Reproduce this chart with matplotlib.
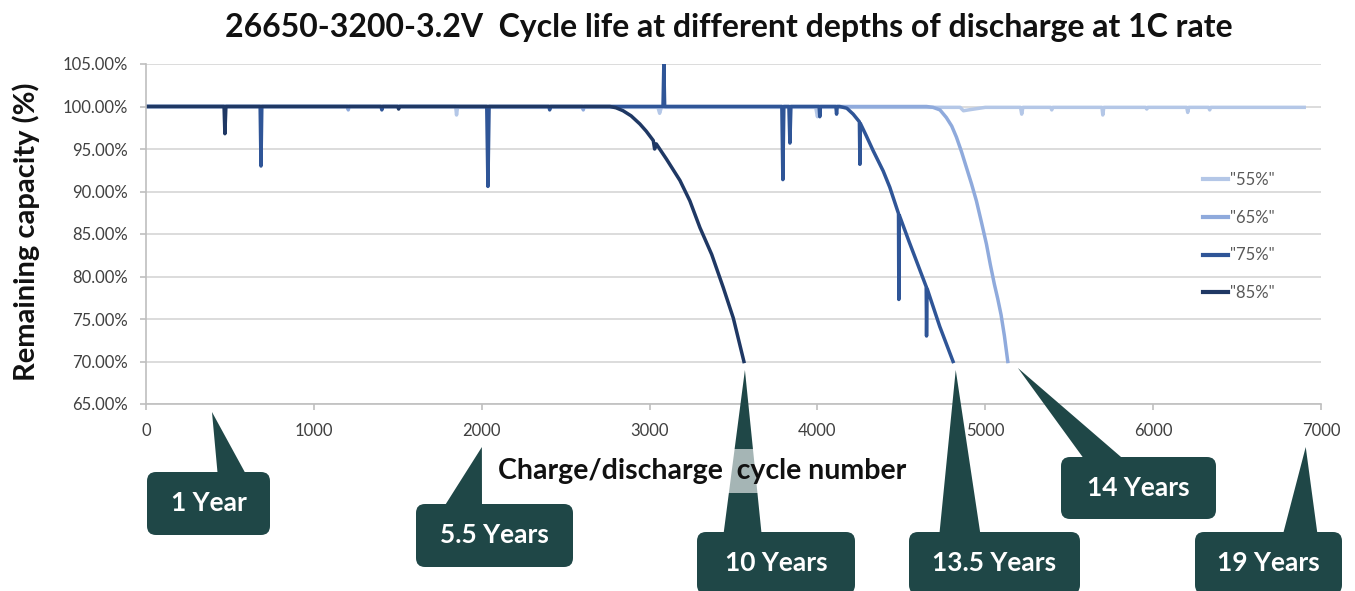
import matplotlib
matplotlib.use("Agg")
import matplotlib.pyplot as plt
from matplotlib.patches import FancyBboxPatch, Polygon
from matplotlib.transforms import IdentityTransform
from matplotlib.ticker import FuncFormatter, MultipleLocator

#------------------------------------------------------------------------------
# Data (cycle number, remaining capacity in %)

X_55 = [0, 1845, 1850, 1856, 3050, 3060, 3070, 3990, 4000, 4010, 4850, 4870,
        4900, 5000, 5210, 5217, 5224, 5390, 5396, 5402, 5695, 5700, 5706, 5955,
        5962, 5968, 6200, 6206, 6212, 6330, 6337, 6343, 6900]
Y_55 = [100, 100, 99.0, 99.9, 99.9, 99.2, 99.9, 99.9, 98.8, 99.9, 99.9, 99.5,
        99.6, 99.9, 99.9, 99.1, 99.9, 99.9, 99.6, 99.9, 99.9, 99.0, 99.9, 99.9,
        99.7, 99.9, 99.9, 99.3, 99.9, 99.9, 99.6, 99.9, 99.9]

X_65 = [0, 1200, 1205, 1210, 2600, 2605, 2610, 4650, 4689, 4730, 4768, 4800,
        4828, 4858, 4888, 4918, 4947, 4977, 5007, 5030, 5054, 5074, 5094, 5114,
        5134]
Y_65 = [100, 100, 99.6, 100, 100, 99.6, 100, 100, 99.9, 99.6, 98.7, 97.7,
        96.4, 94.7, 92.8, 90.9, 88.9, 86.4, 83.8, 81.4, 79.1, 77.4, 75.5, 73.0,
        70.0]

X_75 = [0, 680, 685, 690, 1400, 1405, 1410, 2030, 2037, 2044, 2400, 2405,
        2410, 3080, 3085, 3090, 3788, 3794, 3800, 3830, 3836, 3842, 4010, 4014,
        4018, 4110, 4114, 4118, 4133, 4175, 4213, 4250, 4253, 4256, 4290, 4332,
        4392, 4431, 4483, 4485, 4488, 4546, 4600, 4648, 4650, 4653, 4729, 4808]
Y_75 = [100, 100, 93.0, 100, 100, 99.6, 100, 100, 90.6, 100, 100, 99.6,
        100, 100, 105.0, 100, 100, 91.4, 100, 100, 95.7, 100, 100, 98.8,
        100, 100, 99.1, 100, 100, 99.8, 99.1, 98.2, 93.2, 98.0, 96.6, 94.8,
        92.4, 90.5, 87.4, 77.3, 87.2, 84.1, 81.3, 78.8, 73.0, 78.6, 74.1, 70.0]

X_85 = [0, 465, 470, 476, 1500, 1505, 1510, 2764, 2800, 2842, 2890, 2942,
        2980, 3022, 3030, 3040, 3101, 3181, 3240, 3300, 3370, 3439, 3499, 3562]
Y_85 = [100, 100, 96.8, 100, 100, 99.7, 100, 100, 99.85, 99.5, 98.9, 97.95,
        97.1, 96.0, 95.0, 95.6, 93.8, 91.3, 88.9, 85.75, 82.6, 78.7, 75.1, 70.0]

SERIES_NAMES = ['"55%"', '"65%"', '"75%"', '"85%"']
SERIES_COLORS = ["#b4c7e7", "#8faadc", "#2f5597", "#1f3864"]

# callouts: label, tip (cycles, %)
CALLOUT_LABELS = ["1 Year", "5.5 Years", "10 Years", "13.5 Years", "14 Years", "19 Years"]
CALLOUT_TIP_X = [393, 2001, 3568, 4824, 5194, 6909]
CALLOUT_TIP_Y = [64.06, 59.94, 69.0, 69.0, 69.24, 59.94]

# callout boxes in pixels from top-left: (left, top, right, bottom), wedge base x range
BOX_RECTS = [(147, 472, 270, 535), (416, 504, 573, 567), (697, 532, 855, 594),
             (909, 532, 1080, 594), (1061, 457, 1216, 519), (1195, 532, 1342, 594)]
WEDGE_BASES = [(218, 248), (442, 482), (723, 762), (939, 981), (1087, 1128), (1282, 1318)]

W, H = 1355, 591
CALLOUT_COLOR = "#1f4747"

#------------------------------------------------------------------------------

def main():
    plt.rcParams['font.family'] = ['Lato', 'DejaVu Sans']

    fig = plt.figure(figsize=(W / 100, H / 100), dpi=100)
    ax = fig.add_axes([146 / W, 1 - 404 / H, (1321 - 146) / W, (404 - 64) / H])

    data = [(X_55, Y_55), (X_65, Y_65), (X_75, Y_75), (X_85, Y_85)]
    for (xs, ys), name, col in zip(data, SERIES_NAMES, SERIES_COLORS):
        ax.plot(xs, ys, color=col, lw=2.5, label=name, solid_joinstyle="round")

    ax.set_xlim(0, 7000)
    ax.set_ylim(65, 105)
    ax.xaxis.set_major_locator(MultipleLocator(1000))
    ax.yaxis.set_major_locator(MultipleLocator(5))
    ax.yaxis.set_major_formatter(FuncFormatter(lambda v, p: "%.2f%%" % v))
    ax.grid(axis="y", color="#d9d9d9", lw=1.3)
    ax.set_axisbelow(True)
    for s in ["top", "right"]:
        ax.spines[s].set_visible(False)
    for s in ["left", "bottom"]:
        ax.spines[s].set_color("#bfbfbf")
        ax.spines[s].set_linewidth(1.2)
    ax.tick_params(axis="both", colors="#bfbfbf", labelcolor="#404040",
                   labelsize=12, length=4, width=1.2)
    ax.tick_params(axis="x", pad=10)
    ax.tick_params(axis="y", pad=9)

    leg = ax.legend(loc="upper left", bbox_to_anchor=(1203 / W, 1 - 172 / H),
                    bbox_transform=fig.transFigure, frameon=False, fontsize=12,
                    handlelength=1.5, handletextpad=0.12, labelspacing=1.3,
                    borderpad=0, borderaxespad=0)
    for t in leg.get_texts():
        t.set_color("#595959")
    for l in leg.get_lines():
        l.set_linewidth(3)

    fig.text(729 / W, 1 - 28 / H,
             "26650-3200-3.2V  Cycle life at different depths of discharge at 1C rate",
             ha="center", va="center", fontsize=23, fontweight="bold", color="#111111")
    fig.text(26 / W, 1 - 232 / H, "Remaining capacity (%)", rotation=90,
             ha="center", va="center", fontsize=21, fontweight="bold", color="#111111")

    # callouts
    to_px = ax.transData
    for label, tx, ty, rect, base in zip(CALLOUT_LABELS, CALLOUT_TIP_X, CALLOUT_TIP_Y,
                                         BOX_RECTS, WEDGE_BASES):
        tip = to_px.transform((tx, ty))
        l, t, r, b = rect
        wedge = Polygon([(base[0], H - t - 6), (base[1], H - t - 6), (tip[0], tip[1])],
                        closed=True, facecolor=CALLOUT_COLOR, edgecolor="none",
                        transform=IdentityTransform(), zorder=4)
        fig.patches.append(wedge)
        box = FancyBboxPatch((l, H - b), r - l, b - t,
                             boxstyle="round,pad=0,rounding_size=9",
                             facecolor=CALLOUT_COLOR, edgecolor="none",
                             transform=IdentityTransform(), zorder=5)
        fig.patches.append(box)
        fig.text((l + r) / 2 / W, 1 - (t + 31) / H, label, ha="center", va="center",
                 fontsize=19, fontweight="bold", color="white", zorder=6)

    fig.text(702 / W, 1 - 471 / H, "Charge/discharge  cycle number",
             ha="center", va="center", fontsize=20.5, fontweight="bold", color="#111111",
             zorder=10,
             bbox=dict(boxstyle="square,pad=0.3", facecolor="white", alpha=0.6,
                       edgecolor="none"))

    fig.savefig("out.png", dpi=100)

#------------------------------------------------------------------------------

if __name__ == "__main__":
    main()
